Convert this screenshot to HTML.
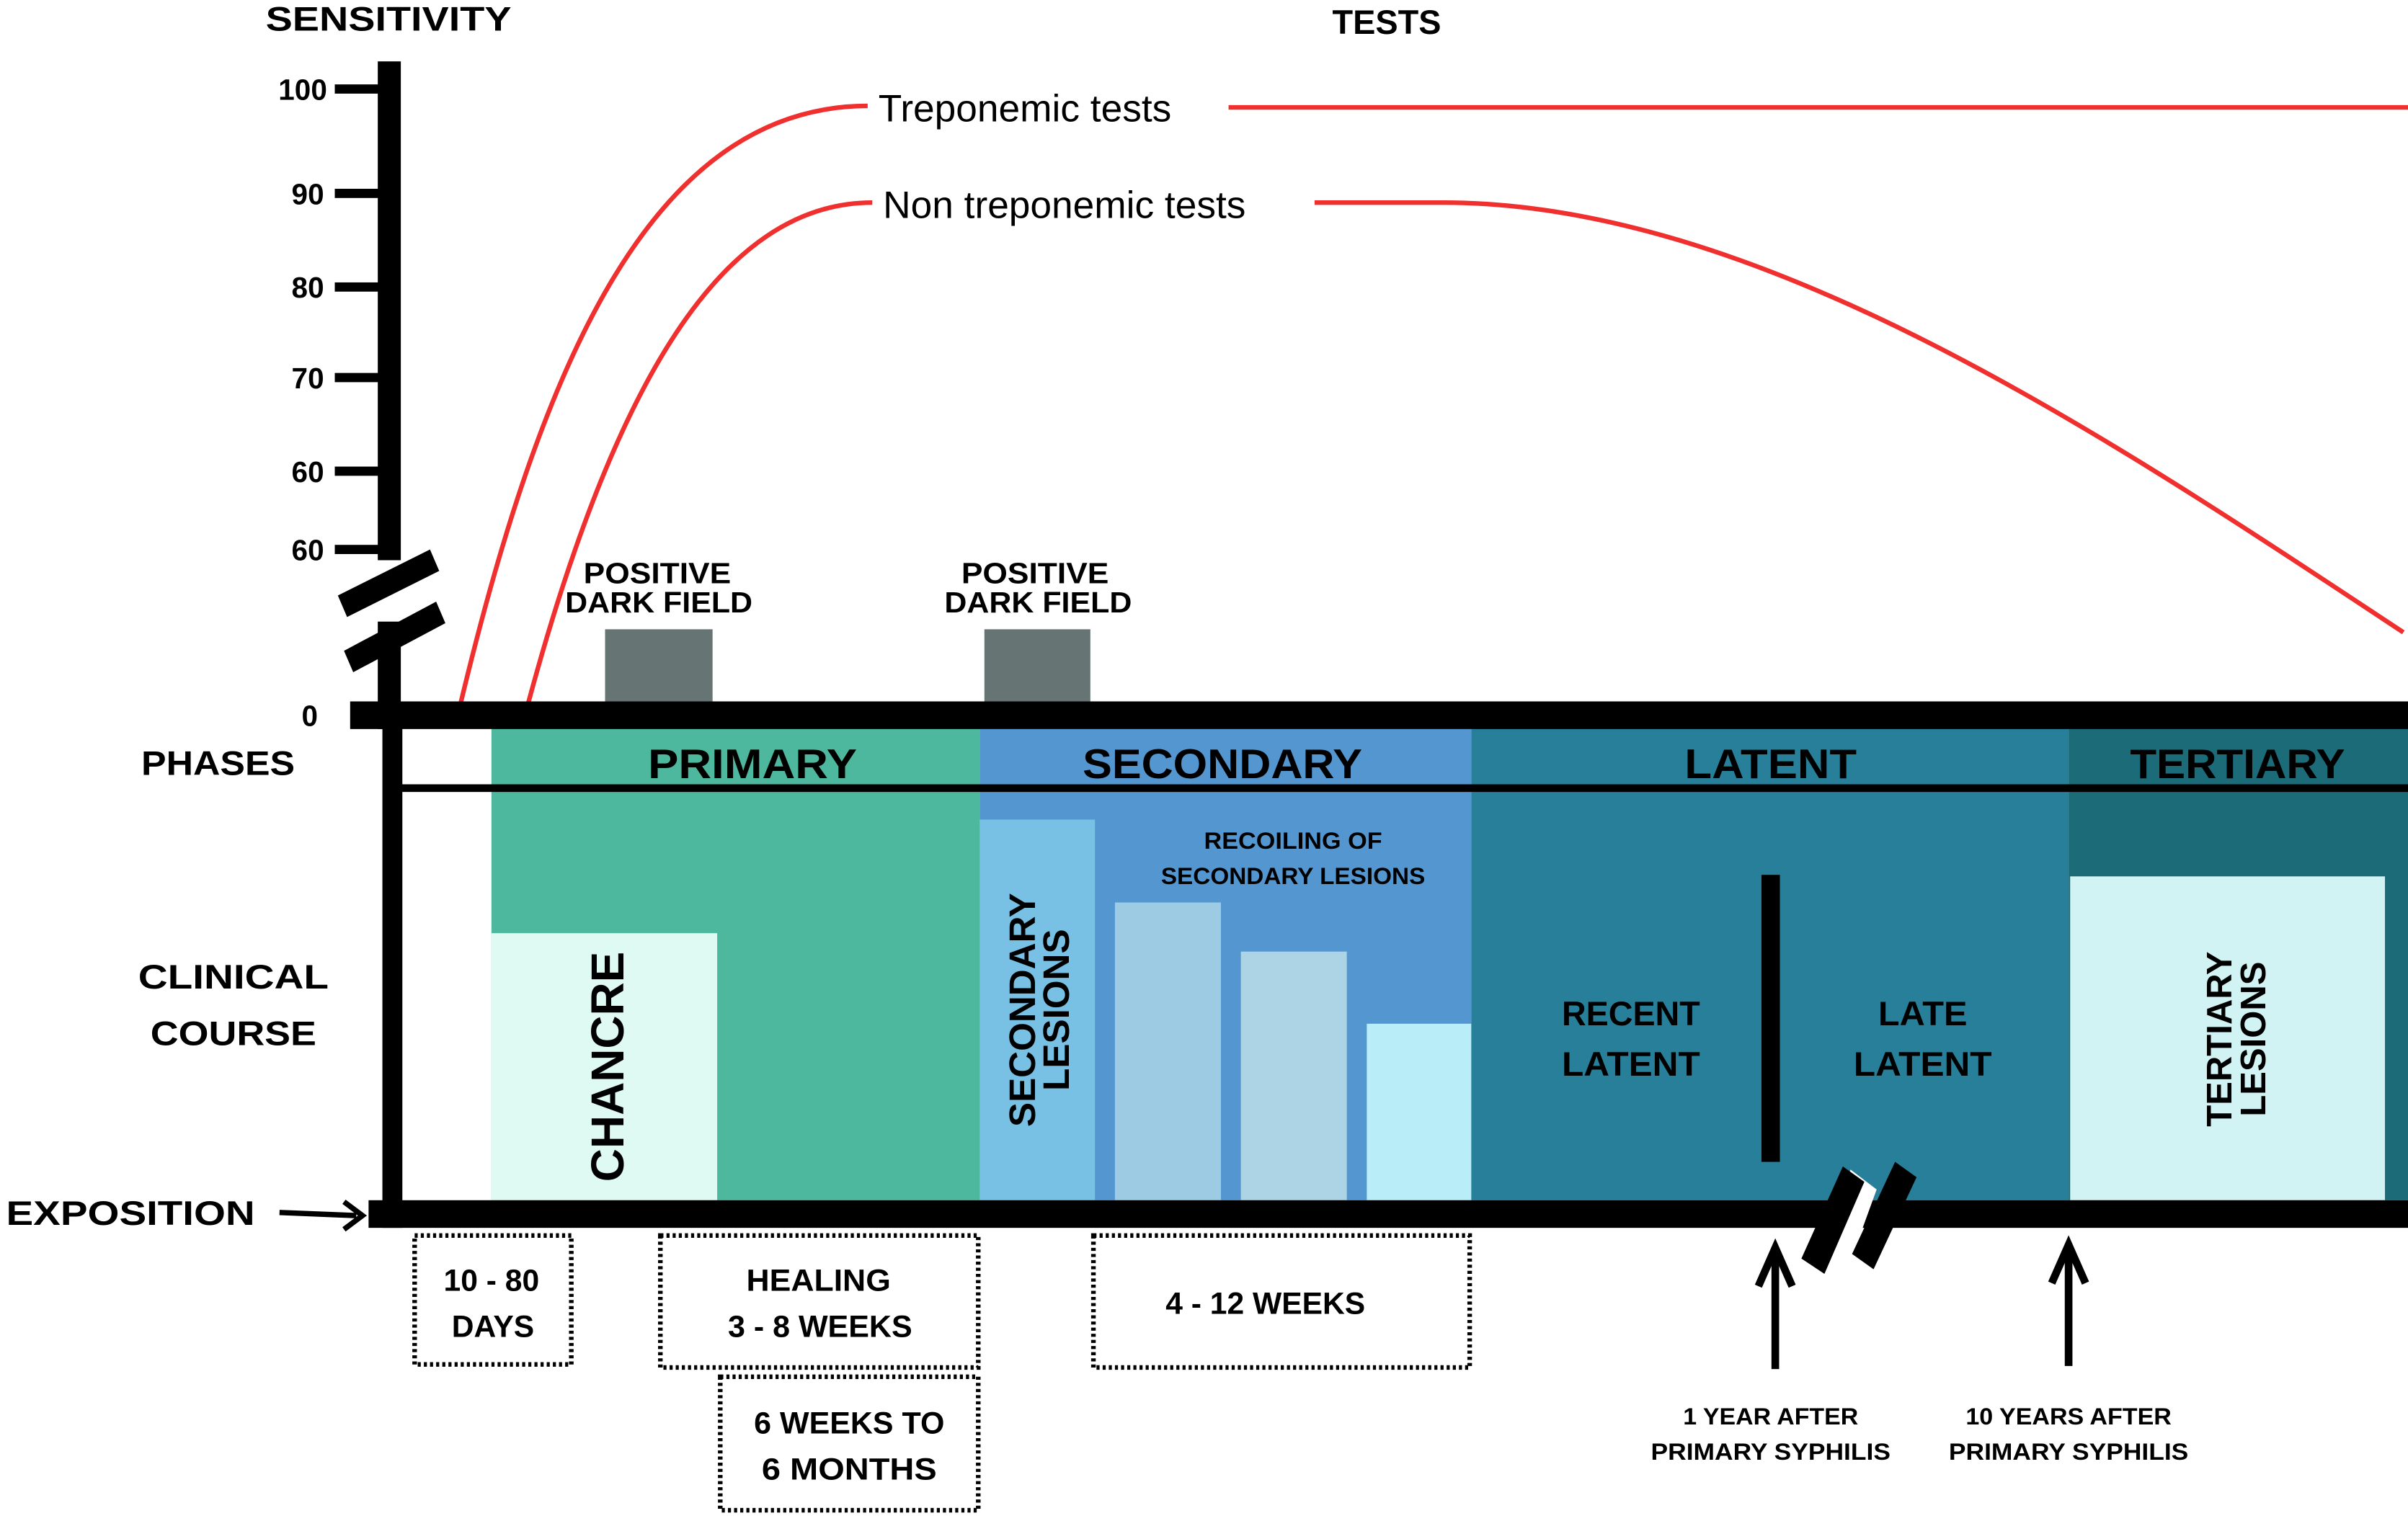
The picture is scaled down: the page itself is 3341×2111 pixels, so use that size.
<!DOCTYPE html>
<html><head><meta charset="utf-8"><style>
html,body{margin:0;padding:0;background:#fff}
svg{display:block}
text{font-family:"Liberation Sans",sans-serif;font-weight:bold;fill:#000}
</style></head><body>
<svg width="3341" height="2111" viewBox="0 0 1568 991" preserveAspectRatio="none" xmlns="http://www.w3.org/2000/svg">
<!-- titles -->
<text x="253" y="20" font-size="22" text-anchor="middle" textLength="160" lengthAdjust="spacingAndGlyphs">SENSITIVITY</text>
<text x="903" y="22" font-size="22" text-anchor="middle">TESTS</text>
<!-- y axis -->
<rect x="246" y="40" width="15" height="325" fill="#000"/>
<rect x="246" y="405" width="15" height="70" fill="#000"/>
<g fill="#000">
<rect x="218" y="55" width="35" height="6"/><rect x="218" y="123" width="35" height="6"/>
<rect x="218" y="184" width="35" height="6"/><rect x="218" y="243" width="35" height="6"/>
<rect x="218" y="304" width="35" height="6"/><rect x="218" y="355" width="35" height="6"/>
</g>
<g font-size="19" text-anchor="end">
<text x="213" y="65">100</text><text x="211" y="133">90</text><text x="211" y="194">80</text>
<text x="211" y="253">70</text><text x="211" y="314">60</text><text x="211" y="365">60</text>
<text x="207" y="473">0</text>
</g>
<!-- break slashes -->
<polygon points="220,388 280,358 286,372 226,402" fill="#000"/>
<polygon points="224,424 284,392 290,406 230,438" fill="#000"/>
<!-- dark field -->
<rect x="394" y="410" width="70" height="48" fill="#677474"/>
<rect x="641" y="410" width="69" height="48" fill="#677474"/>
<g font-size="19" text-anchor="middle">
<text x="428" y="380" textLength="96" lengthAdjust="spacingAndGlyphs">POSITIVE</text>
<text x="429" y="399" textLength="122" lengthAdjust="spacingAndGlyphs">DARK FIELD</text>
<text x="674" y="380" textLength="96" lengthAdjust="spacingAndGlyphs">POSITIVE</text>
<text x="676" y="399" textLength="122" lengthAdjust="spacingAndGlyphs">DARK FIELD</text>
</g>
<!-- curves -->
<g fill="none" stroke="#f0302f" stroke-width="3">
<path d="M300,458 C350,250 420,69 565,69"/>
<line x1="800" y1="70" x2="1568" y2="70"/>
<path d="M344,458 C400,250 470,132 568,132"/>
<path d="M856,132 L940,132 C1150,132 1380,290 1565,412"/>
</g>
<text x="572" y="79" font-size="25" font-weight="normal" style="font-weight:normal">Treponemic tests</text>
<text x="575" y="142" font-size="25" style="font-weight:normal">Non treponemic tests</text>
<!-- phase colors -->
<rect x="320" y="474" width="318" height="308" fill="#4db89d"/>
<rect x="638" y="474" width="320" height="308" fill="#5496d0"/>
<rect x="958" y="474" width="389" height="308" fill="#277f99"/>
<rect x="1347" y="474" width="221" height="308" fill="#1b6b78"/>
<rect x="320" y="608" width="147" height="174" fill="#dff9f3"/>
<rect x="638" y="534" width="75" height="248" fill="#78c0e4"/>
<rect x="726" y="588" width="69" height="194" fill="#9ecbe4"/>
<rect x="808" y="620" width="69" height="162" fill="#acd4e4"/>
<rect x="890" y="667" width="68" height="115" fill="#b9eef9"/>
<rect x="1348" y="571" width="205" height="211" fill="#d2f3f4"/>
<!-- frame -->
<rect x="228" y="457" width="1340" height="18" fill="#000"/>
<rect x="249" y="457" width="13" height="343" fill="#000"/>
<rect x="255" y="511" width="1313" height="5" fill="#000"/>
<rect x="240" y="782" width="1328" height="18" fill="#000"/>
<rect x="1147" y="570" width="12" height="187" fill="#000"/>
<!-- bottom break -->
<polygon points="1190,805 1205,762 1222,775 1206,819" fill="#fff"/>
<polygon points="1173,820 1200,760 1214,770 1188,830" fill="#000"/>
<polygon points="1206,817 1234,757 1248,767 1220,827" fill="#000"/>
<!-- phase labels -->
<g font-size="27" text-anchor="middle">
<text x="490" y="507" textLength="136" lengthAdjust="spacingAndGlyphs">PRIMARY</text>
<text x="796" y="507" textLength="182" lengthAdjust="spacingAndGlyphs">SECONDARY</text>
<text x="1153" y="507" textLength="112" lengthAdjust="spacingAndGlyphs">LATENT</text>
<text x="1457" y="507" textLength="140" lengthAdjust="spacingAndGlyphs">TERTIARY</text>
</g>
<g font-size="22">
<text x="92" y="505" textLength="100" lengthAdjust="spacingAndGlyphs">PHASES</text>
<text x="152" y="644" text-anchor="middle" textLength="124" lengthAdjust="spacingAndGlyphs">CLINICAL</text>
<text x="152" y="681" text-anchor="middle" textLength="108" lengthAdjust="spacingAndGlyphs">COURSE</text>
<text x="4" y="798" textLength="162" lengthAdjust="spacingAndGlyphs">EXPOSITION</text>
</g>
<g font-size="22" text-anchor="middle">
<text x="1062" y="668" textLength="90" lengthAdjust="spacingAndGlyphs">RECENT</text>
<text x="1062" y="701" textLength="90" lengthAdjust="spacingAndGlyphs">LATENT</text>
<text x="1252" y="668" textLength="58" lengthAdjust="spacingAndGlyphs">LATE</text>
<text x="1252" y="701" textLength="90" lengthAdjust="spacingAndGlyphs">LATENT</text>
</g>
<g font-size="15" text-anchor="middle">
<text x="842" y="553" textLength="116" lengthAdjust="spacingAndGlyphs">RECOILING OF</text>
<text x="842" y="576" textLength="172" lengthAdjust="spacingAndGlyphs">SECONDARY LESIONS</text>
</g>
<text transform="translate(406,695) rotate(-90)" font-size="30" text-anchor="middle">CHANCRE</text>
<text transform="translate(674,658) rotate(-90)" font-size="24" text-anchor="middle">SECONDARY</text>
<text transform="translate(696,658) rotate(-90)" font-size="24" text-anchor="middle">LESIONS</text>
<text transform="translate(1453,677) rotate(-90)" font-size="23" text-anchor="middle">TERTIARY</text>
<text transform="translate(1475,677) rotate(-90)" font-size="23" text-anchor="middle">LESIONS</text>
<!-- exposition arrow -->
<line x1="182" y1="790" x2="232" y2="792" stroke="#000" stroke-width="3.5"/>
<polyline points="224,783 236,792 224,801" fill="none" stroke="#000" stroke-width="3.5"/>
<!-- dotted boxes -->
<g fill="none" stroke="#000" stroke-width="3" stroke-dasharray="2,2">
<rect x="270" y="805" width="102" height="84"/>
<rect x="430" y="805" width="207" height="86"/>
<rect x="469" y="897" width="168" height="87"/>
<rect x="712" y="805" width="245" height="86"/>
</g>
<g font-size="20" text-anchor="middle">
<text x="320" y="841">10 - 80</text><text x="321" y="871">DAYS</text>
<text x="533" y="841" textLength="94" lengthAdjust="spacingAndGlyphs">HEALING</text>
<text x="534" y="871" textLength="120" lengthAdjust="spacingAndGlyphs">3 - 8 WEEKS</text>
<text x="553" y="934" textLength="124" lengthAdjust="spacingAndGlyphs">6 WEEKS TO</text>
<text x="553" y="964" textLength="114" lengthAdjust="spacingAndGlyphs">6 MONTHS</text>
<text x="824" y="856" textLength="130" lengthAdjust="spacingAndGlyphs">4 - 12 WEEKS</text>
</g>
<!-- up arrows -->
<g stroke="#000" stroke-width="5" fill="none">
<line x1="1156" y1="892" x2="1156" y2="815"/>
<polyline points="1145,838 1156,813 1167,838"/>
<line x1="1347" y1="890" x2="1347" y2="813"/>
<polyline points="1336,836 1347,811 1358,836"/>
</g>
<g font-size="15" text-anchor="middle">
<text x="1153" y="928" textLength="114" lengthAdjust="spacingAndGlyphs">1 YEAR AFTER</text>
<text x="1153" y="951" textLength="156" lengthAdjust="spacingAndGlyphs">PRIMARY SYPHILIS</text>
<text x="1347" y="928" textLength="134" lengthAdjust="spacingAndGlyphs">10 YEARS AFTER</text>
<text x="1347" y="951" textLength="156" lengthAdjust="spacingAndGlyphs">PRIMARY SYPHILIS</text>
</g>
</svg>
</body></html>
